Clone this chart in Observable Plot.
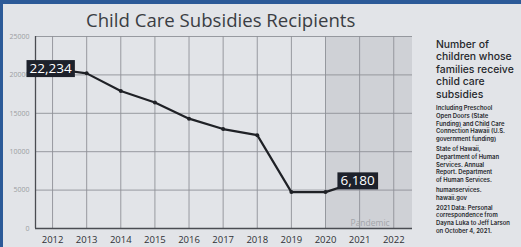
<!DOCTYPE html>
<html>
<head>
<meta charset="utf-8">
<script src="https://cdn.jsdelivr.net/npm/d3@7"></script>
<script src="https://cdn.jsdelivr.net/npm/@observablehq/plot@0.6"></script>
<style>
  html, body { margin: 0; padding: 0; background: #e2e4e8; }
  #wrap { position: relative; width: 521px; height: 247px; overflow: hidden; background: #e2e4e8; font-family: "Open Sans", sans-serif; }
  #topbar { position: absolute; left: 0; top: 0; width: 521px; height: 4px; background: #2c5a98; }
  #leftbar { position: absolute; left: 0; top: 0; width: 3px; height: 247px; background: #2c5a98; }
  #title { position: absolute; left: 86px; top: 7px; font-size: 18.6px; color: #3a3d43; font-weight: 400; white-space: nowrap; }
  #side { position: absolute; left: 436px; top: 39px; width: 84px; color: #26282c; font-family: Inter, sans-serif; }
  #side .head { font-size: 10.4px; line-height: 12.4px; font-weight: 500; margin-bottom: 3px; }
  #side .small { font-size: 5.9px; line-height: 7.8px; font-weight: 600; margin-bottom: 2px; }
  #chart { position: absolute; left: 0; top: 0; }
</style>
</head>
<body>
<div id="wrap">
  <div id="chart"></div>
  <div id="topbar"></div>
  <div id="leftbar"></div>
  <div id="title">Child Care Subsidies Recipients</div>
  <div id="side">
    <div class="head">Number of<br>children whose<br>families receive<br>child care<br>subsidies</div>
    <div class="small">Including Preschool<br>Open Doors (State<br>Funding) and Child Care<br>Connection Hawaii (U.S.<br>government funding)</div>
    <div class="small">State of Hawaii,<br>Department of Human<br>Services. Annual<br>Report. Department<br>of Human Services.</div>
    <div class="small">humanservices.<br>hawaii.gov</div>
    <div class="small">2021 Data: Personal<br>correspondence from<br>Dayna Luka to Jeff Larson<br>on October 4, 2021.</div>
  </div>
</div>
<script>
// Data
const years = [2012, 2013, 2014, 2015, 2016, 2017, 2018, 2019, 2020, 2021];
const recipients = [20800, 20200, 17900, 16400, 14300, 12950, 12150, 4740, 4740, 6180];

const labelYears = [2012, 2021];
const labelValues = [20800, 6180];
const labelTexts = ["22,234", "6,180"];

const yTicks = [0, 5000, 10000, 15000, 20000, 25000];
const xTicks = [2012, 2013, 2014, 2015, 2016, 2017, 2018, 2019, 2020, 2021, 2022];

const pandemicStart = [2020];
const pandemicText = ["Pandemic"];

const xDomain = [2011.5, 2022.55];
const yDomain = [0, 25000];

const data = years.map((y, i) => ({year: y, value: recipients[i]}));
const labels = labelYears.map((y, i) => ({year: y, value: labelValues[i], text: labelTexts[i]}));

const chart = Plot.plot({
  width: 521,
  height: 247,
  marginLeft: 35,
  marginRight: 109,
  marginTop: 36,
  marginBottom: 19,
  style: {background: "transparent", fontFamily: "Open Sans, sans-serif", overflow: "visible"},
  x: {domain: xDomain, axis: null},
  y: {domain: yDomain, axis: null},
  marks: [
    Plot.rect(pandemicStart, {x1: d => d, x2: xDomain[1], y1: yDomain[0], y2: yDomain[1], fill: "#cfd1d6"}),
    Plot.ruleY(yTicks.slice(1), {stroke: "#8e9197", strokeWidth: 0.9}),
    Plot.ruleX(xTicks, {stroke: "#8e9197", strokeWidth: 0.9}),
    Plot.ruleX([xDomain[0]], {stroke: "#4a4c52", strokeWidth: 1.3}),
    Plot.ruleY([0], {stroke: "#4a4c52", strokeWidth: 1.5}),
    Plot.line(data, {x: "year", y: "value", stroke: "#1f2126", strokeWidth: 2.2}),
    Plot.dot(data, {x: "year", y: "value", r: 2, fill: "#1f2126"}),
    Plot.text(yTicks, {x: xDomain[0], y: d => d, text: d => String(d), dx: -6, textAnchor: "end", fontSize: 7, fill: "#9b9da2"}),
    Plot.text(xTicks, {x: d => d, y: yDomain[0], text: d => String(d), dy: 11, fontSize: 9.5, fill: "#2f3136"}),
    Plot.text(pandemicText, {x: 2021.88, y: yDomain[0], dy: -5, textAnchor: "end", fontSize: 8.5, fill: "#a3a5aa"}),
    Plot.text(labels, {x: "year", y: "value", text: "text", dx: -2, fontSize: 13.5, fill: "#ffffff", className: "vlabel"})
  ]
});
document.getElementById("chart").appendChild(chart);

// Dark boxes behind the value labels, sized from the rendered text
const svg = chart.tagName.toLowerCase() === "svg" ? chart : chart.querySelector("svg");
svg.querySelectorAll("g.vlabel text").forEach(t => {
  const b = t.getBBox();
  const r = document.createElementNS("http://www.w3.org/2000/svg", "rect");
  r.setAttribute("x", b.x - 3);
  r.setAttribute("y", b.y + 1);
  r.setAttribute("width", b.width + 6);
  r.setAttribute("height", b.height - 1);
  r.setAttribute("fill", "#1d212b");
  const tr = t.getAttribute("transform");
  if (tr) r.setAttribute("transform", tr);
  t.parentNode.insertBefore(r, t);
});
</script>
</body>
</html>
